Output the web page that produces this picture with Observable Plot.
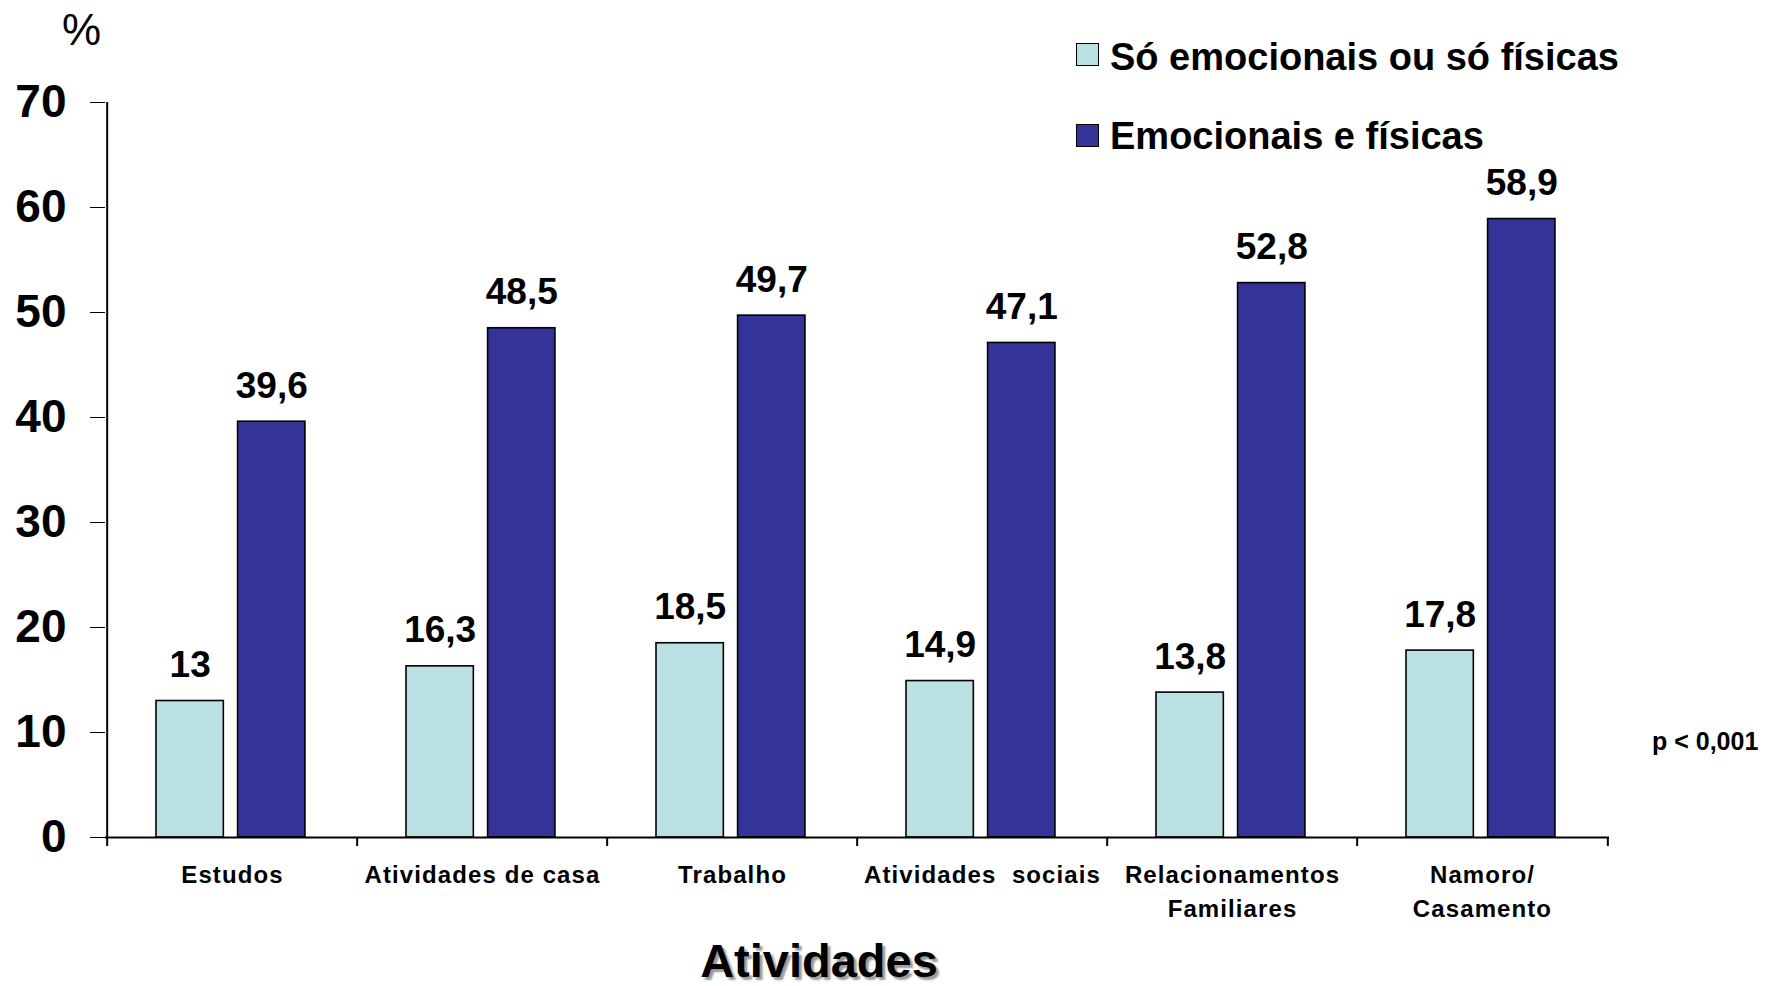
<!DOCTYPE html>
<html>
<head>
<meta charset="utf-8">
<script src="https://cdn.jsdelivr.net/npm/d3@7"></script>
<script src="https://cdn.jsdelivr.net/npm/@observablehq/plot@0.6"></script>
<style>
  html, body { margin: 0; padding: 0; background: #fff; }
  #wrap { position: relative; width: 1771px; height: 986px; font-family: "Liberation Sans", Arial, sans-serif; color: #000; }
  #wrap svg { position: absolute; left: 0; top: 0; }
  .ann { position: absolute; white-space: pre; line-height: 1; }
  .sw { position: absolute; width: 21px; height: 21px; border: 1.5px solid #000; }
  .catlab text, text.catlab { letter-spacing: 1.1px; }
</style>
</head>
<body>
<div id="wrap"></div>
<script>
// ---- data ----
const categories = ["Estudos", "Atividades de casa", "Trabalho", "Atividades\u00a0 sociais", "Relacionamentos\nFamiliares", "Namoro/\nCasamento"];
const seriesNames = ["Só emocionais ou só físicas", "Emocionais e físicas"];
const seriesColors = ["#BBE0E3", "#333399"];
const valuesSo = [13, 16.3, 18.5, 14.9, 13.8, 17.8];
const valuesAmbas = [39.6, 48.5, 49.7, 47.1, 52.8, 58.9];
const yTicks = [0, 10, 20, 30, 40, 50, 60, 70];

const table = [];
categories.forEach((c, i) => {
  table.push({cat: c, serie: seriesNames[0], value: valuesSo[i], k: 0});
  table.push({cat: c, serie: seriesNames[1], value: valuesAmbas[i], k: 1});
});
const fmt = v => String(v).replace(".", ",");

// ---- layout ----
const W = 1771, H = 986;
const mL = 105, mR = 162, mT = 102, mB = 149;
const bw = (W - mL - mR) / categories.length;
const barW = 68, gap = 13.6, outer = 49;
const offLight = outer + barW / 2 - bw / 2;
const offDark = outer + barW + gap + barW / 2 - bw / 2;
const tickUnits = 9 / ((H - mT - mB) / 70);

const font = "'Liberation Sans', Arial, sans-serif";

const chart = Plot.plot({
  width: W, height: H,
  marginLeft: mL, marginRight: mR, marginTop: mT, marginBottom: mB,
  style: {fontFamily: font, fontSize: "46px", fontWeight: "bold", color: "#000", background: "transparent"},
  x: {domain: categories, padding: 0, axis: null},
  y: {domain: [0, 70], ticks: yTicks, tickSize: 15, tickPadding: 24, label: null, tickFormat: d => d},
  marks: [
    Plot.barY(table.filter(d => d.k === 0), {x: "cat", y: "value", fill: seriesColors[0], stroke: "#000", strokeWidth: 1.6,
      insetLeft: outer, insetRight: bw - outer - barW}),
    Plot.barY(table.filter(d => d.k === 1), {x: "cat", y: "value", fill: seriesColors[1], stroke: "#000", strokeWidth: 1.6,
      insetLeft: outer + barW + gap, insetRight: bw - outer - 2 * barW - gap}),
    // axis lines
    Plot.ruleY([0], {stroke: "#000", strokeWidth: 2}),
    Plot.ruleX([categories[0]], {y1: 0, y2: 70, dx: -bw / 2, stroke: "#000", strokeWidth: 2}),
    // category boundary ticks
    Plot.ruleX(categories, {y1: 0, y2: -tickUnits, dx: -bw / 2, stroke: "#000", strokeWidth: 2}),
    Plot.ruleX([categories[categories.length - 1]], {y1: 0, y2: -tickUnits, dx: bw / 2, stroke: "#000", strokeWidth: 2}),
    // value labels
    Plot.text(table.filter(d => d.k === 0), {x: "cat", y: "value", text: d => fmt(d.value), dx: offLight, dy: -24,
      lineAnchor: "bottom", fontSize: 37, fontWeight: "bold", fill: "#000"}),
    Plot.text(table.filter(d => d.k === 1), {x: "cat", y: "value", text: d => fmt(d.value), dx: offDark, dy: -24,
      lineAnchor: "bottom", fontSize: 37, fontWeight: "bold", fill: "#000"}),
    // category labels
    Plot.text(categories, {x: d => d, text: d => d, frameAnchor: "bottom", lineAnchor: "top", dy: 21,
      fontSize: 24, fontWeight: "bold", lineHeight: 1.42, fill: "#000", className: "catlab"})
  ]
});

const wrap = document.getElementById("wrap");
wrap.appendChild(chart);
// letter spacing on category labels (fallback if className unsupported)
d3.select(chart).selectAll("text").each(function() {
  const t = this.textContent;
  if (categories.some(c => c.replace(/\n/g, "") === t || c.split("\n").includes(t))) {
    this.setAttribute("letter-spacing", "1.1px");
  }
});

function ann(text, left, baseline, size, weight, extra) {
  const d = document.createElement("div");
  d.className = "ann";
  d.textContent = text;
  d.style.left = left + "px";
  d.style.top = (baseline - 0.8465 * size) + "px";
  d.style.fontSize = size + "px";
  d.style.fontWeight = weight;
  if (extra) Object.assign(d.style, extra);
  wrap.appendChild(d);
  return d;
}
function swatch(color, left, top) {
  const s = document.createElement("div");
  s.className = "sw";
  s.style.left = left + "px";
  s.style.top = top + "px";
  s.style.background = color;
  wrap.appendChild(s);
}

// legend
swatch(seriesColors[0], 1076, 43);
ann(seriesNames[0], 1110, 70, 38, "bold");
swatch(seriesColors[1], 1076, 124);
ann(seriesNames[1], 1110, 149, 38, "bold");

// y unit
ann("%", 62, 45, 44, "normal");
// p value
ann("p < 0,001", 1652, 750, 25, "bold");
// x axis title
ann("Atividades", 619, 977, 47, "bold", {width: "400px", textAlign: "center", textShadow: "3px 3px 2px #9a9a9a"});
</script>
</body>
</html>
